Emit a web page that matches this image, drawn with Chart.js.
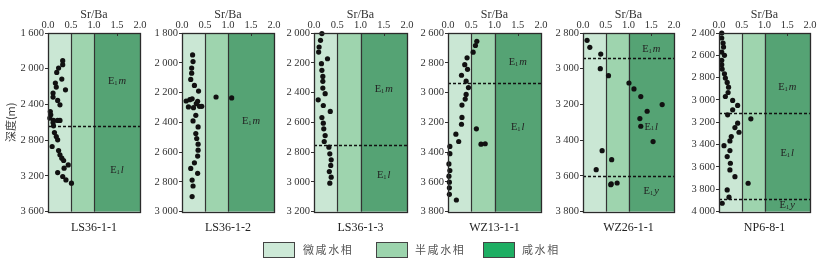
<!DOCTYPE html>
<html>
<head>
<meta charset="utf-8">
<script src="https://cdn.jsdelivr.net/npm/chart.js@4.4.1/dist/chart.umd.min.js"></script>
<style>
  body { margin: 0; background: #fff; }
  #wrap { position: relative; width: 822px; height: 263px; overflow: hidden; }
  #wrap canvas { position: absolute; top: 0; }
  .lg-box { position: absolute; top: 242px; width: 30px; height: 14px; border: 1px solid #444; }
  .lg-txt { position: absolute; top: 241px; font: 11px "Noto Sans CJK SC", sans-serif; color: #555; letter-spacing: 1.6px; }
</style>
</head>
<body>
<div id="wrap"></div>
<script>
// wells and depth axes
var wells = ['LS36-1-1', 'LS36-1-2', 'LS36-1-3', 'WZ13-1-1', 'WZ26-1-1', 'NP6-8-1'];
var depthMin = [1600, 1800, 2000, 2600, 2800, 2400];
var depthMax = [3600, 3000, 3200, 3800, 3800, 4000];
var depthStep = [400, 200, 200, 200, 200, 200];
var srbaTicks = [0, 0.5, 1.0, 1.5, 2.0];

// samples: depth (m) and Sr/Ba
var ls3611Depth = [1910, 1955, 1993, 2041, 2116, 2161, 2206, 2236, 2273, 2318, 2355, 2404, 2479, 2516, 2553, 2579, 2579, 2579, 2602, 2639, 2714, 2759, 2796, 2871, 2916, 2964, 3002, 3028, 3077, 3114, 3163, 3207, 3245, 3282];
var ls3611SrBa = [0.32, 0.32, 0.23, 0.19, 0.30, 0.16, 0.18, 0.38, 0.11, 0.11, 0.21, 0.26, 0.05, 0.06, 0.04, 0.12, 0.21, 0.26, 0.11, 0.12, 0.14, 0.18, 0.21, 0.09, 0.23, 0.26, 0.30, 0.34, 0.44, 0.35, 0.21, 0.32, 0.39, 0.51];
var ls3612Depth = [1947, 1992, 2036, 2070, 2112, 2152, 2190, 2230, 2236, 2242, 2248, 2257, 2259, 2275, 2293, 2293, 2297, 2302, 2353, 2391, 2431, 2476, 2509, 2547, 2587, 2627, 2672, 2710, 2743, 2788, 2828, 2899];
var ls3612SrBa = [0.23, 0.24, 0.21, 0.21, 0.19, 0.27, 0.36, 0.74, 1.08, 0.22, 0.17, 0.09, 0.34, 0.31, 0.38, 0.43, 0.14, 0.25, 0.30, 0.24, 0.35, 0.30, 0.32, 0.35, 0.35, 0.34, 0.27, 0.19, 0.34, 0.22, 0.24, 0.22];
var ls3613Depth = [2004, 2049, 2094, 2128, 2173, 2206, 2251, 2292, 2325, 2370, 2408, 2449, 2487, 2527, 2568, 2606, 2644, 2689, 2729, 2767, 2812, 2852, 2890, 2931, 2969, 3009];
var ls3613SrBa = [0.17, 0.14, 0.11, 0.10, 0.29, 0.16, 0.17, 0.19, 0.19, 0.19, 0.24, 0.09, 0.20, 0.35, 0.17, 0.20, 0.21, 0.24, 0.22, 0.32, 0.34, 0.37, 0.36, 0.33, 0.37, 0.34];
var wz1311Depth = [2656, 2684, 2729, 2767, 2813, 2844, 2884, 2924, 2967, 3013, 3044, 3084, 3167, 3213, 3244, 3280, 3329, 3347, 3344, 3362, 3411, 3480, 3524, 3562, 3602, 3640, 3684, 3722];
var wz1311SrBa = [0.62, 0.59, 0.54, 0.41, 0.36, 0.42, 0.29, 0.39, 0.44, 0.39, 0.37, 0.30, 0.30, 0.29, 0.61, 0.17, 0.23, 0.71, 0.80, 0.04, 0.04, 0.02, 0.04, 0.02, 0.03, 0.03, 0.03, 0.18];
var wz2611Depth = [2841, 2880, 2918, 3000, 3039, 3080, 3113, 3156, 3201, 3238, 3279, 3322, 3408, 3459, 3509, 3565, 3645, 3640, 3649];
var wz2611SrBa = [0.09, 0.15, 0.39, 0.38, 0.56, 1.01, 1.12, 1.27, 1.74, 1.41, 1.25, 1.27, 1.54, 0.42, 0.63, 0.29, 0.62, 0.75, 0.61];
var np681Depth = [2400, 2445, 2490, 2526, 2571, 2600, 2645, 2684, 2723, 2765, 2804, 2843, 2885, 2933, 2969, 3004, 3049, 3088, 3133, 3169, 3208, 3247, 3289, 3328, 3367, 3409, 3453, 3507, 3567, 3627, 3687, 3746, 3806, 3871, 3925];
var np681SrBa = [0.06, 0.06, 0.09, 0.10, 0.06, 0.12, 0.06, 0.06, 0.07, 0.12, 0.14, 0.18, 0.21, 0.20, 0.14, 0.30, 0.41, 0.30, 0.19, 0.70, 0.41, 0.35, 0.44, 0.27, 0.24, 0.11, 0.24, 0.18, 0.25, 0.24, 0.35, 0.64, 0.18, 0.22, 0.07];

// formation tops (dashed lines) and member labels
var boundaries = [[2647], [], [2750], [2935], [2940, 3600], [3120, 3890]];
var formations = [['m', 'l'], ['m'], ['m', 'l'], ['m', 'l'], ['m', 'l', 'y'], ['m', 'l', 'y']];
var formationLabelDepth = [[2140, 3140], [2390], [2380, 2955], [2795, 3235], [2890, 3325, 3688], [2885, 3478, 3942]];

// facies bands on Sr/Ba
var faciesNames = ['微咸水相', '半咸水相', '咸水相'];
var faciesLimits = [0, 0.5, 1.0, 2.0];

var depths = [ls3611Depth, ls3612Depth, ls3613Depth, wz1311Depth, wz2611Depth, np681Depth];
var ratios = [ls3611SrBa, ls3612SrBa, ls3613SrBa, wz1311SrBa, wz2611SrBa, np681SrBa];

var bandColors = ['#cae7d4', '#9ed4ae', '#55a374'];
var legendColors = ['#cde9d7', '#9cd4ad', '#1eae63'];
var plotLeft = [48, 182, 314, 448, 583, 719];
var plotWidth = [92, 92, 93, 93, 91, 91];
var serif = '"Liberation Serif", "DejaVu Serif", serif';

function thousands(v) {
  return String(v).replace(/\B(?=(\d{3})+(?!\d))/g, ' ');
}

var wellPlugin = {
  id: 'well',
  beforeDatasetsDraw: function (chart) {
    var ctx = chart.ctx, a = chart.chartArea, x = chart.scales.x, y = chart.scales.y;
    var i = chart.options.plugins.well.index;
    ctx.save();
    for (var k = 0; k < faciesNames.length; k++) {
      var x0 = x.getPixelForValue(faciesLimits[k]);
      var x1 = x.getPixelForValue(faciesLimits[k + 1]);
      ctx.fillStyle = bandColors[k];
      ctx.fillRect(x0, a.top, x1 - x0, a.bottom - a.top);
    }
    ctx.strokeStyle = '#333';
    ctx.lineWidth = 1.2;
    [0.5, 1.0].forEach(function (v) {
      var px = Math.round(x.getPixelForValue(v)) + 0.5;
      ctx.beginPath(); ctx.moveTo(px, a.top); ctx.lineTo(px, a.bottom); ctx.stroke();
    });
    // small inner tick at 1.5
    var t = Math.round(x.getPixelForValue(1.5)) + 0.5;
    ctx.lineWidth = 1;
    ctx.beginPath(); ctx.moveTo(t, a.top); ctx.lineTo(t, a.top + 3); ctx.stroke();
    // formation boundaries
    ctx.setLineDash([3, 2]);
    ctx.lineWidth = 1.3;
    ctx.strokeStyle = '#111';
    boundaries[i].forEach(function (d) {
      var py = Math.round(y.getPixelForValue(d)) + 0.5;
      ctx.beginPath(); ctx.moveTo(a.left, py); ctx.lineTo(a.right, py); ctx.stroke();
    });
    ctx.setLineDash([]);
    // member labels E1m, E1l, E1y
    ctx.fillStyle = '#222';
    ctx.textBaseline = 'middle';
    formations[i].forEach(function (m, j) {
      var cx = x.getPixelForValue(1.5), cy = y.getPixelForValue(formationLabelDepth[i][j]);
      ctx.font = '10.5px ' + serif;
      var wE = ctx.measureText('E').width;
      ctx.font = '6.5px ' + serif;
      var w1 = ctx.measureText('1').width;
      ctx.font = 'italic 10.5px ' + serif;
      var wm = ctx.measureText(m).width;
      var sx = cx - (wE + w1 + wm + 1) / 2;
      ctx.textAlign = 'left';
      ctx.font = '10.5px ' + serif;
      ctx.fillText('E', sx, cy);
      ctx.font = '6.5px ' + serif;
      ctx.fillText('1', sx + wE, cy + 2);
      ctx.font = 'italic 10.5px ' + serif;
      ctx.fillText(m, sx + wE + w1 + 1, cy);
    });
    ctx.restore();
  },
  afterDatasetsDraw: function (chart) {
    var ctx = chart.ctx, a = chart.chartArea;
    ctx.save();
    ctx.strokeStyle = '#2b2b2b';
    ctx.lineWidth = 1.3;
    ctx.strokeRect(Math.round(a.left) + 0.5, Math.round(a.top) + 0.5, Math.round(a.right - a.left), Math.round(a.bottom - a.top));
    ctx.restore();
  }
};

var wrap = document.getElementById('wrap');

wells.forEach(function (name, i) {
  var yw = i === 0 ? 48 : 40;
  var canvas = document.createElement('canvas');
  canvas.width = yw + plotWidth[i] + 12;
  canvas.height = 240;
  canvas.style.left = (plotLeft[i] - yw) + 'px';
  wrap.appendChild(canvas);

  var pts = depths[i].map(function (d, k) { return { x: ratios[i][k], y: d }; });

  new Chart(canvas.getContext('2d'), {
    type: 'scatter',
    data: {
      datasets: [{
        label: name,
        data: pts,
        pointRadius: 2.6,
        pointHoverRadius: 2.6,
        backgroundColor: '#111',
        borderColor: '#111',
        borderWidth: 0,
        clip: false
      }]
    },
    options: {
      responsive: false,
      animation: false,
      events: [],
      layout: { padding: { left: 0, right: 12, top: 0, bottom: 0 } },
      plugins: {
        legend: { display: false },
        tooltip: { enabled: false },
        title: {
          display: true,
          text: name,
          position: 'bottom',
          fullSize: false,
          color: '#222',
          font: { family: serif, size: 12, weight: 'normal' },
          padding: { top: 9, bottom: 5 }
        },
        well: { index: i }
      },
      scales: {
        x: {
          type: 'linear',
          position: 'top',
          min: 0,
          max: 2,
          afterBuildTicks: function (s) { s.ticks = srbaTicks.map(function (v) { return { value: v }; }); },
          ticks: {
            callback: function (v) { return Number(v).toFixed(1); },
            color: '#333',
            font: { family: serif, size: 10.5 },
            padding: 1,
            maxRotation: 0,
            autoSkip: false
          },
          grid: { display: false, drawTicks: false },
          border: { display: false },
          title: {
            display: true,
            text: 'Sr/Ba',
            color: '#333',
            font: { family: serif, size: 12 },
            padding: { top: 8, bottom: 0 }
          },
          afterFit: function (s) { s.height = 33; s.paddingLeft = 0; s.paddingRight = 0; }
        },
        y: {
          type: 'linear',
          reverse: true,
          min: depthMin[i],
          max: depthMax[i],
          ticks: {
            stepSize: depthStep[i],
            callback: function (v) { return thousands(v); },
            color: '#333',
            font: { family: serif, size: 10.5 },
            padding: 1
          },
          grid: { drawOnChartArea: false, tickLength: 3, color: '#333' },
          border: { display: false },
          title: {
            display: i === 0,
            text: '深度(m)',
            color: '#444',
            font: { family: '"Noto Sans CJK SC", sans-serif', size: 11 },
            padding: { top: 4, bottom: 0 }
          },
          afterFit: function (s) { s.width = yw; s.paddingTop = 0; s.paddingBottom = 0; }
        }
      }
    },
    plugins: [wellPlugin]
  });
});

// legend
var lgBoxLeft = [263, 376, 483];
var lgTextLeft = [303, 415, 522];
faciesNames.forEach(function (f, k) {
  var b = document.createElement('div');
  b.className = 'lg-box';
  b.style.left = lgBoxLeft[k] + 'px';
  b.style.background = legendColors[k];
  wrap.appendChild(b);
  var t = document.createElement('div');
  t.className = 'lg-txt';
  t.style.left = lgTextLeft[k] + 'px';
  t.textContent = f;
  wrap.appendChild(t);
});
</script>
</body>
</html>
